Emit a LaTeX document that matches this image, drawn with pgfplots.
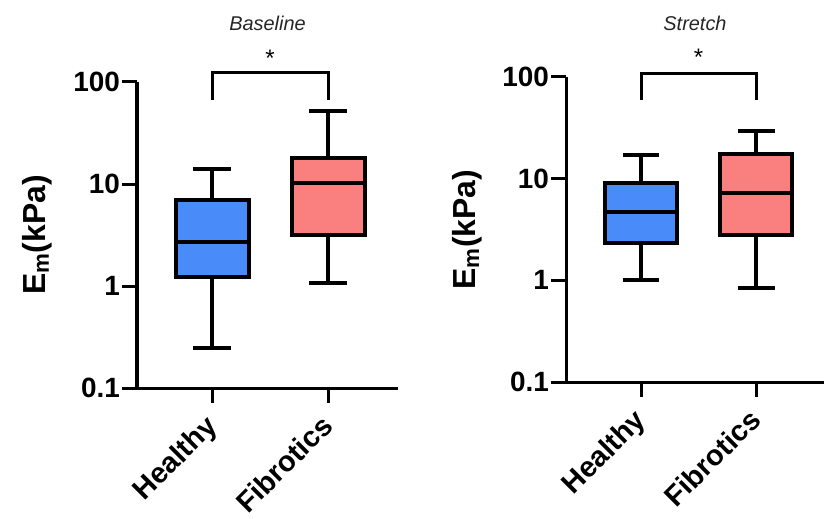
\documentclass[border=0pt]{standalone}
\usepackage{pgfplots}
\pgfplotsset{compat=1.18}
\usepackage{fontspec}
\setmainfont{Liberation Sans}
\definecolor{hblue}{HTML}{4A8BFA}
\definecolor{fpink}{HTML}{FA8080}
\begin{document}
\begin{tikzpicture}
\path[use as bounding box] (0,0) rectangle (824bp,519bp);
% Baseline
\begin{axis}[at={(137bp,131bp)}, anchor=south west,
  width=261bp, height=306bp, xmin=-0.647, xmax=1.603,
  scale only axis,
  ymode=log,
  ymin=0.1, ymax=100,
  ytick={0.1,1,10,100},
  yticklabels={\textbf{0.1},\textbf{1},\textbf{10},\textbf{100}},
  yminorticks=false,
  xtick={0,1},
  xticklabels={\textbf{Healthy},\textbf{Fibrotics}},
  axis x line*=bottom, axis y line*=left,
  axis line style={line width=3bp, -},
  tick style={line width=3bp, black},
  major tick length=15bp,
  tick align=outside,
  x tick label style={rotate=45, anchor=north east, xshift=-12bp, font=\fontsize{29}{35}\selectfont, inner sep=1bp},
  y tick label style={font=\fontsize{28}{34}\selectfont, inner sep=2bp},
  ylabel={\textbf{E\textsubscript{m}(kPa)}},
  ylabel style={font=\fontsize{32}{38}\selectfont, at={(axis description cs:-0.383,0.5)}, anchor=center},
  clip=false]
% Healthy whiskers
\addplot[black, line width=4bp] coordinates {(0,0.248) (0,13.9)};
\addplot[black, line width=4bp] coordinates {(-0.16,13.9) (0.16,13.9)};
\addplot[black, line width=4bp] coordinates {(-0.16,0.248) (0.16,0.248)};
\addplot[draw=black, fill=hblue, line width=4bp, line join=miter] coordinates {(-0.315,1.22) (0.315,1.22) (0.315,6.98) (-0.315,6.98)} -- cycle;
\addplot[black, line width=4bp] coordinates {(-0.315,2.73) (0.315,2.73)};
% Fibrotics
\addplot[black, line width=4bp] coordinates {(1,1.07) (1,51.7)};
\addplot[black, line width=4bp] coordinates {(0.84,51.7) (1.16,51.7)};
\addplot[black, line width=4bp] coordinates {(0.84,1.07) (1.16,1.07)};
\addplot[draw=black, fill=fpink, line width=4bp, line join=miter] coordinates {(0.685,3.18) (1.315,3.18) (1.315,18.1) (0.685,18.1)} -- cycle;
\addplot[black, line width=4bp] coordinates {(0.685,10.3) (1.315,10.3)};
\draw[line width=3bp, line join=miter] (axis cs:0,66.7) -- (axis cs:0,125) -- (axis cs:1,125) -- (axis cs:1,66.7);
\node[font=\fontsize{24}{28}\selectfont] at (axis cs:0.5,172) {*};
\node[font=\fontsize{20}{24}\selectfont\itshape, text=black!85] at (rel axis cs:0.5,1.193) {Baseline};
\end{axis}
% Stretch
\begin{axis}[at={(566bp,137bp)}, anchor=south west,
  width=258bp, height=305bp, xmin=-0.652, xmax=1.59,
  scale only axis,
  ymode=log,
  ymin=0.1, ymax=100,
  ytick={0.1,1,10,100},
  yticklabels={\textbf{0.1},\textbf{1},\textbf{10},\textbf{100}},
  yminorticks=false,
  xtick={0,1},
  xticklabels={\textbf{Healthy},\textbf{Fibrotics}},
  axis x line*=bottom, axis y line*=left,
  axis line style={line width=3bp, -},
  tick style={line width=3bp, black},
  major tick length=15bp,
  tick align=outside,
  x tick label style={rotate=45, anchor=north east, xshift=-12bp, font=\fontsize{29}{35}\selectfont, inner sep=1bp},
  y tick label style={font=\fontsize{28}{34}\selectfont, inner sep=2bp},
  ylabel={\textbf{E\textsubscript{m}(kPa)}},
  ylabel style={font=\fontsize{32}{38}\selectfont, at={(axis description cs:-0.383,0.5)}, anchor=center},
  clip=false]
% Healthy
\addplot[black, line width=4bp] coordinates {(0,1.0) (0,17)};
\addplot[black, line width=4bp] coordinates {(-0.16,17) (0.16,17)};
\addplot[black, line width=4bp] coordinates {(-0.16,1.0) (0.16,1.0)};
\addplot[draw=black, fill=hblue, line width=4bp, line join=miter] coordinates {(-0.315,2.33) (0.315,2.33) (0.315,9.06) (-0.315,9.06)} -- cycle;
\addplot[black, line width=4bp] coordinates {(-0.315,4.7) (0.315,4.7)};
% Fibrotics
\addplot[black, line width=4bp] coordinates {(1,0.85) (1,29.4)};
\addplot[black, line width=4bp] coordinates {(0.84,29.4) (1.16,29.4)};
\addplot[black, line width=4bp] coordinates {(0.84,0.85) (1.16,0.85)};
\addplot[draw=black, fill=fpink, line width=4bp, line join=miter] coordinates {(0.685,2.77) (1.315,2.77) (1.315,17.6) (0.685,17.6)} -- cycle;
\addplot[black, line width=4bp] coordinates {(0.685,7.2) (1.315,7.2)};
\draw[line width=3bp, line join=miter] (axis cs:0,59.4) -- (axis cs:0,109) -- (axis cs:1,109) -- (axis cs:1,59.4);
\node[font=\fontsize{24}{28}\selectfont] at (axis cs:0.5,157) {*};
\node[font=\fontsize{20}{24}\selectfont\itshape, text=black!85] at (rel axis cs:0.5,1.177) {Stretch};
\end{axis}
\end{tikzpicture}
\end{document}
